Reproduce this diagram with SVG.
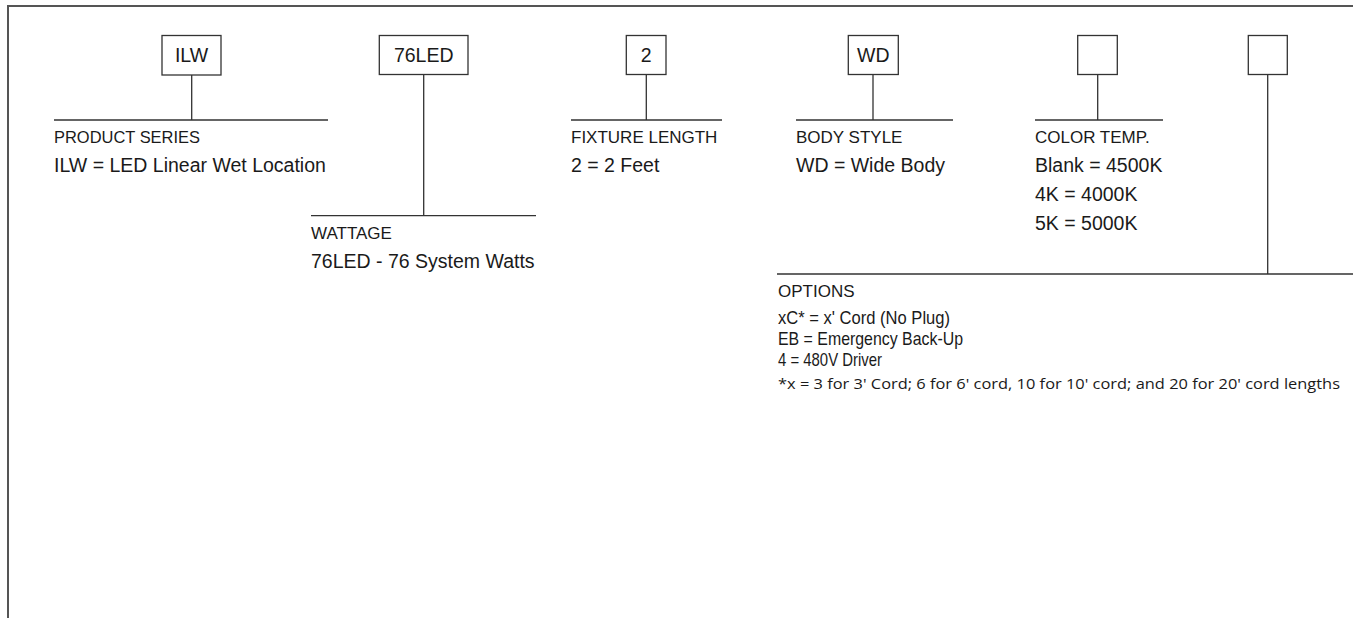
<svg xmlns="http://www.w3.org/2000/svg" width="1353" height="618" viewBox="0 0 1353 618">
<style>
.box{fill:#fff;stroke:#333;stroke-width:1.3}
.ln{stroke:#333;stroke-width:1.3;fill:none}
.bx{font-family:"Liberation Sans",Arial,sans-serif;font-size:19.5px;fill:#1a1a1a;text-anchor:middle}
.hd{font-family:"Liberation Sans",Arial,sans-serif;font-size:17px;fill:#1a1a1a}
.vl{font-family:"Liberation Sans",Arial,sans-serif;font-size:19.5px;fill:#1a1a1a}
.op{font-family:"Liberation Sans",Arial,sans-serif;font-size:18.5px;fill:#1a1a1a}
.fn{font-family:"Open Sans","Noto Sans",sans-serif;font-size:14px;fill:#1a1a1a}
</style>
<rect width="1353" height="618" fill="#fff"/>
<path d="M8 618 V6 H1353" fill="none" stroke="#555" stroke-width="2"/>
<g id="connectors">
<path class="ln" d="M191.7 75 V120 M54 120 H328"/>
<path class="ln" d="M423.7 74.5 V215.7 M311 215.7 H536"/>
<path class="ln" d="M646.3 74.5 V120 M571 120 H722"/>
<path class="ln" d="M873 74.5 V120 M796 120 H953"/>
<path class="ln" d="M1097.7 74.5 V120 M1035 120 H1163"/>
<path class="ln" d="M1267.7 74.5 V274 M777 274 H1353"/>
</g>
<g id="series">
<rect class="box" x="162" y="35.5" width="59" height="39.5"/>
<text class="bx" x="191.5" y="62">ILW</text>
<text class="hd" x="54" y="143" textLength="146" lengthAdjust="spacingAndGlyphs">PRODUCT SERIES</text>
<text class="vl" x="54" y="172">ILW = LED Linear Wet Location</text>
</g>
<g id="wattage">
<rect class="box" x="379.3" y="35.5" width="88.7" height="39"/>
<text class="bx" x="423.7" y="62">76LED</text>
<text class="hd" x="311" y="239">WATTAGE</text>
<text class="vl" x="311" y="268">76LED - 76 System Watts</text>
</g>
<g id="length">
<rect class="box" x="626.3" y="35.5" width="39.7" height="39"/>
<text class="bx" x="646.3" y="62">2</text>
<text class="hd" x="571" y="143">FIXTURE LENGTH</text>
<text class="vl" x="571" y="172">2 = 2 Feet</text>
</g>
<g id="body">
<rect class="box" x="848.3" y="35.5" width="50" height="39"/>
<text class="bx" x="873.3" y="62">WD</text>
<text class="hd" x="796" y="143">BODY STYLE</text>
<text class="vl" x="796" y="172">WD = Wide Body</text>
</g>
<g id="colortemp">
<rect class="box" x="1077.7" y="35.5" width="39.6" height="39"/>
<text class="hd" x="1035" y="143">COLOR TEMP.</text>
<text class="vl" x="1035" y="172">Blank = 4500K</text>
<text class="vl" x="1035" y="201">4K = 4000K</text>
<text class="vl" x="1035" y="230">5K = 5000K</text>
</g>
<g id="options">
<rect class="box" x="1248.3" y="35.5" width="39" height="39"/>
<text class="hd" x="778" y="297">OPTIONS</text>
<text class="op" x="778" y="324" textLength="172" lengthAdjust="spacingAndGlyphs">xC* = x' Cord (No Plug)</text>
<text class="op" x="778" y="345" textLength="185" lengthAdjust="spacingAndGlyphs">EB = Emergency Back-Up</text>
<text class="op" x="778" y="366" textLength="104" lengthAdjust="spacingAndGlyphs">4 = 480V Driver</text>
<text class="fn" x="778" y="389" textLength="562" lengthAdjust="spacingAndGlyphs">*x = 3 for 3' Cord; 6 for 6' cord, 10 for 10' cord; and 20 for 20' cord lengths</text>
</g>
</svg>
